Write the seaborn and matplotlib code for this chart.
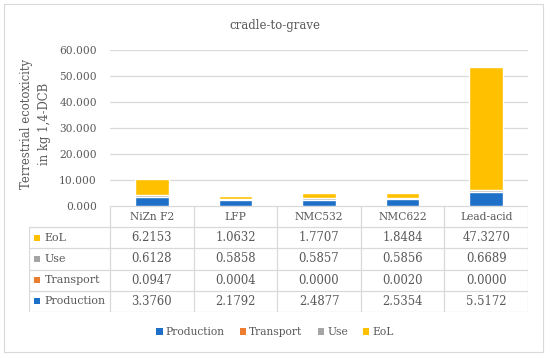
import matplotlib
matplotlib.use("Agg")
import matplotlib.pyplot as plt
from matplotlib.patches import Patch, Rectangle
import numpy as np
import seaborn as sns

sns.set_style("white")
plt.rcParams["font.family"] = ["DejaVu Serif"]

# data
batteries = ["NiZn F2", "LFP", "NMC532", "NMC622", "Lead-acid"]
production = [3.3760, 2.1792, 2.4877, 2.5354, 5.5172]
transport = [0.0947, 0.0004, 0.0000, 0.0020, 0.0000]
use = [0.6128, 0.5858, 0.5857, 0.5856, 0.6689]
eol = [6.2153, 1.0632, 1.7707, 1.8484, 47.3270]
yticks = [0, 10, 20, 30, 40, 50, 60]

stages = ["Production", "Transport", "Use", "EoL"]
colors = ["#1E6FC8", "#ED7D31", "#A5A5A5", "#FFC000"]

TXT = "#595959"
LINE = "#D9D9D9"
FS = 7.7

W, H = 550, 358
fig = plt.figure(figsize=(W / 100, H / 100), dpi=100)


def fx(px):
    return px / W


def fy(py):
    return 1 - py / H


# outer frame
fig.patches.append(Rectangle((fx(4), fy(352)), fx(539), 348 / H, transform=fig.transFigure,
                             fill=False, edgecolor=LINE, linewidth=0.8))

# main chart, stacked by drawing cumulative totals back to front
ax = fig.add_axes([fx(110), fy(206), fx(418), (206 - 50) / H])
series = [production, transport, use, eol]
cum = np.cumsum(np.array(series), axis=0)
for i in range(len(stages) - 1, -1, -1):
    sns.barplot(x=batteries, y=cum[i], color=colors[i], width=0.4, saturation=1,
                ax=ax, zorder=3)
ax.set_xlim(-0.5, 4.5)
ax.set_ylim(0, 60)
ax.set_yticks(yticks)
ax.set_yticklabels([f"{v}.000" for v in yticks])
ax.tick_params(axis="y", length=0, pad=9.5, labelsize=FS, labelcolor=TXT)
ax.set_xticks([])
ax.set_xlabel("")
for s in ax.spines.values():
    s.set_visible(False)
ax.grid(axis="y", color=LINE, linewidth=0.9, zorder=0)
ax.set_axisbelow(True)
ax.set_ylabel("Terrestrial ecotoxicity\nin kg 1,4-DCB", fontsize=FS + 0.7, color=TXT,
              linespacing=1.55)
ax.yaxis.set_label_coords(-0.14, 0.525)

fig.text(0.5, fy(25), "cradle-to-grave", ha="center", va="center", fontsize=FS + 0.8, color=TXT)

# data table below the chart
unit = 418 / 5
left_x = -0.5 - (110 - 29) / unit
tab = fig.add_axes([fx(29), fy(312), fx(528 - 29), (312 - 206) / H])
tab.set_xlim(left_x, 4.5)
tab.set_ylim(5, 0)
tab.axis("off")
tab.plot([-0.5, 4.5], [0, 0], color=LINE, lw=0.9)
for r in range(1, 6):
    tab.plot([left_x, 4.5], [r, r], color=LINE, lw=0.9)
tab.plot([left_x, left_x], [1, 5], color=LINE, lw=0.9)
for c in np.arange(-0.5, 4.6, 1):
    tab.plot([c, c], [0, 5], color=LINE, lw=0.9)

for i, name in enumerate(batteries):
    tab.text(i, 0.5, name, ha="center", va="center", fontsize=FS, color=TXT)

rows = list(reversed(range(len(stages))))
for r, k in enumerate(rows, start=1):
    tab.plot(left_x + 0.1, r + 0.5, marker="s", ms=5, color=colors[k], mew=0)
    tab.text(left_x + 0.19, r + 0.5, stages[k], ha="left", va="center", fontsize=FS + 0.2,
             color=TXT)
    for i, v in enumerate(series[k]):
        tab.text(i, r + 0.5, f"{v:.4f}", ha="center", va="center", fontsize=FS + 0.7, color=TXT)

handles = [Patch(facecolor=c, edgecolor="none") for c in colors]
fig.legend(handles, stages, loc="center", bbox_to_anchor=(0.5, fy(332)), ncol=4, frameon=False,
           fontsize=FS, labelcolor=TXT, handlelength=0.6, handleheight=0.6, handletextpad=0.3,
           columnspacing=1.4)

fig.savefig("out.png", dpi=100)
